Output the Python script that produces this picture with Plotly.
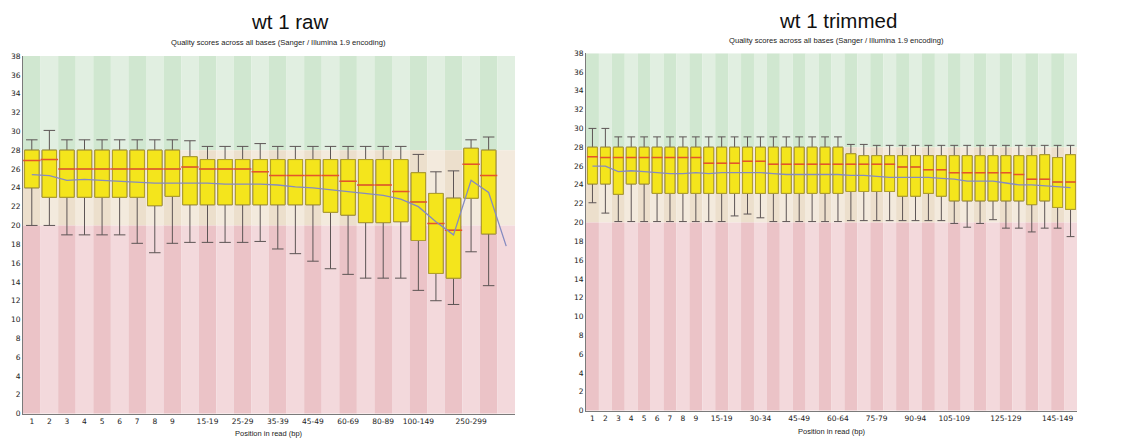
import plotly.graph_objects as go

# ---------------- data ----------------
raw_cats = ["1", "2", "3", "4", "5", "6", "7", "8", "9",
            "10-14", "15-19", "20-24", "25-29", "30-34", "35-39", "40-44", "45-49",
            "50-59", "60-69", "70-79", "80-89", "90-99",
            "100-149", "150-199", "200-249", "250-299", "300-349", "350-351"]
raw_upper = [29.1, 30.1, 29.1, 29.1, 29.1, 29.1, 29.1, 29.1, 29.1, 29.0, 28.4, 28.4, 28.4, 28.7,
             28.4, 28.4, 28.4, 28.4, 28.4, 28.4, 28.4, 28.4, 27.55, 25.7, 25.8, 29.1, 29.4]
raw_q3 = [28, 28, 28, 28, 28, 28, 28, 28, 28, 27.3, 27.0, 27.0, 27.0, 27.0,
          27, 27, 27, 27, 27, 27, 27, 27, 25.6, 23.4, 22.9, 28.2, 28.0]
raw_median = [26.9, 27.0, 26, 26, 26, 26, 26, 26, 26, 26.2, 26, 26, 26, 25.7,
              25.3, 25.3, 25.3, 25.3, 24.7, 24.3, 24.3, 23.6, 22.5, 20.2, 19.5, 26.5, 25.3]
raw_q1 = [24, 23, 23, 23, 23, 23, 23, 22.1, 23.1, 22.2, 22.2, 22.2, 22.2, 22.2,
          22.2, 22.2, 22.2, 21.4, 21.1, 20.3, 20.3, 20.4, 18.4, 14.9, 14.4, 22.9, 19.1]
raw_lower = [20, 20, 19, 19, 19, 19, 18.1, 17.1, 18.1, 18.2, 18.2, 18.2, 18.2, 18.3,
             17.5, 17.0, 16.2, 15.4, 14.8, 14.4, 14.4, 14.4, 13.1, 12.0, 11.6, 17.2, 13.6]
raw_mean = [25.4, 25.3, 24.8, 24.9, 24.8, 24.7, 24.6, 24.5, 24.5, 24.5, 24.5, 24.4, 24.4, 24.4,
            24.3, 24.1, 24.0, 23.8, 23.6, 23.4, 23.2, 22.8, 22.0, 20.4, 19.0, 24.8, 23.5, 17.8]
raw_ticks = ["1", "2", "3", "4", "5", "6", "7", "8", "9", "15-19", "25-29", "35-39",
             "45-49", "60-69", "80-89", "100-149", "250-299"]

trim_cats = ["1", "2", "3", "4", "5", "6", "7", "8", "9",
             "10-14", "15-19", "20-24", "25-29", "30-34", "35-39", "40-44", "45-49",
             "50-54", "55-59", "60-64", "65-69", "70-74", "75-79", "80-84", "85-89",
             "90-94", "95-99", "100-104", "105-109", "110-114", "115-119", "120-124",
             "125-129", "130-134", "135-139", "140-144", "145-149", "150-151"]
trim_upper = [30, 30] + [29.1] * 18 + [28.3, 28.3, 28.2, 28.2] + [28.2] * 14
trim_q3 = [28] * 20 + [27.3, 27.1, 27.1, 27.1, 27.1, 27.1, 27.1, 27.1, 27.1,
                       27.1, 27.1, 27.1, 27.1, 27.1, 27.1, 27.2, 26.9, 27.2]
trim_median = [27, 26.9, 26.9, 26.9, 26.9, 26.9, 26.9, 26.9, 26.9, 26.3, 26.3, 26.3, 26.5, 26.5,
               26.2, 26.2, 26.2, 26.2, 26.2, 26.2, 26.2, 26.2, 26.2, 26.2, 25.9, 25.9, 25.6, 25.6,
               25.3, 25.3, 25.3, 25.3, 25.3, 25.1, 24.6, 24.6, 24.3, 24.3]
trim_q1 = [24.1, 24.1, 23.0, 24.1, 24.1, 23.1, 23.1, 23.1, 23.1, 23.1, 23.1, 23.1, 23.1, 23.1,
           23.1, 23.1, 23.1, 23.1, 23.1, 23.1, 23.3, 23.3, 23.3, 23.3, 22.8, 22.8, 23.1, 22.8,
           22.3, 22.3, 22.3, 22.3, 22.3, 22.3, 21.9, 22.3, 21.6, 21.4]
trim_lower = [22.1, 21.0, 20.1, 20.1, 20.1, 20.1, 20.1, 20.1, 20.1, 20.1, 20.1, 20.7, 20.9, 20.5,
              20.1, 20.1, 20.1, 20.1, 20.1, 20.1, 20.2, 20.2, 20.2, 20.2, 20.2, 20.2, 20.2, 20.2,
              19.9, 19.5, 19.9, 20.3, 19.4, 19.4, 19.0, 19.4, 19.4, 18.5]
trim_mean = [26.0, 26.0, 25.4, 25.5, 25.4, 25.3, 25.2, 25.2, 25.3, 25.2, 25.3, 25.3, 25.3, 25.3,
             25.2, 25.1, 25.1, 25.1, 25.1, 25.1, 25.0, 25.0, 24.9, 24.8, 24.8, 24.8, 24.8, 24.7,
             24.6, 24.4, 24.4, 24.4, 24.2, 24.0, 24.0, 23.9, 23.8, 23.7]
trim_ticks = ["1", "2", "3", "4", "5", "6", "7", "8", "9", "15-19", "30-34", "45-49",
              "60-64", "75-79", "90-94", "105-109", "125-129", "145-149"]

titles = ["wt 1 raw", "wt 1 trimmed"]
subtitle = "Quality scores across all bases (Sanger / Illumina 1.9 encoding)"
xlabel = "Position in read (bp)"

# zones: (low, high, dark stripe, light stripe)
zones = [(28, 38, "#d0e7d0", "#e1efe1"),
         (20, 28, "#ecdfcc", "#f3eadd"),
         (0, 20, "#ebc3c7", "#f3d9dc")]

W, H = 1123, 441
OFF = 8  # default page body margin shifts the plot by this many px
FONT = "DejaVu Sans"
SANS = "Liberation Sans"


def fx(px):
    return (px - OFF) / W


def fy(py):
    return 1 - (py - OFF) / H


fig = go.Figure()
shapes = []
annotations = []

panels = [
    dict(cats=raw_cats, up=raw_upper, q3=raw_q3, med=raw_median, q1=raw_q1, lo=raw_lower,
         mean=raw_mean, ticks=raw_ticks, xa="x", ya="y", px=(23, 515), py=(53, 418),
         bw=0.82, title=titles[0], tx=290, ty=18, sx=278, sy=39, ay=438),
    dict(cats=trim_cats, up=trim_upper, q3=trim_q3, med=trim_median, q1=trim_q1, lo=trim_lower,
         mean=trim_mean, ticks=trim_ticks, xa="x2", ya="y2", px=(586, 1077), py=(50, 415),
         bw=0.76, title=titles[1], tx=838, ty=17, sx=836, sy=37, ay=436),
]

for k, p in enumerate(panels):
    cats = p["cats"]
    n = len(p["q1"])
    xa, ya = p["xa"], p["ya"]
    cat_px = (p["px"][1] - p["px"][0]) / len(cats)
    # background stripes
    for i in range(len(cats)):
        for (lo, hi, dark, light) in zones:
            shapes.append(dict(type="rect", xref=xa, yref=ya, x0=i - 0.5, x1=i + 0.5,
                               y0=lo, y1=hi, fillcolor=dark if i % 2 == 0 else light,
                               line=dict(width=0), layer="below"))
    # whiskers (gray)
    fig.add_trace(go.Box(x=cats[:n], q1=p["q1"], median=p["med"], q3=p["q3"],
                         lowerfence=p["lo"], upperfence=p["up"], xaxis=xa, yaxis=ya,
                         width=p["bw"], whiskerwidth=0.8, fillcolor="#f4e51c",
                         line=dict(color="#5d5555", width=1), boxpoints=False,
                         hoverinfo="skip", showlegend=False))
    # box bodies (olive outline)
    fig.add_trace(go.Box(x=cats[:n], q1=p["q1"], median=p["med"], q3=p["q3"],
                         lowerfence=p["q1"], upperfence=p["q3"], xaxis=xa, yaxis=ya,
                         width=p["bw"], whiskerwidth=0, fillcolor="#f4e51c",
                         line=dict(color="#b2a02a", width=1), boxpoints=False,
                         hoverinfo="skip", showlegend=False))
    # medians (red)
    fig.add_trace(go.Scatter(x=cats[:n], y=p["med"], xaxis=xa, yaxis=ya, mode="markers",
                             marker=dict(symbol="line-ew", size=p["bw"] * cat_px - 2,
                                         line=dict(color="#e5552a", width=1.5)),
                             hoverinfo="skip", showlegend=False))
    # mean line (blue)
    fig.add_trace(go.Scatter(x=cats, y=p["mean"], xaxis=xa, yaxis=ya, mode="lines",
                             line=dict(color="#858bc0", width=1.3),
                             hoverinfo="skip", showlegend=False))

    xdom = [fx(p["px"][0]), fx(p["px"][1])]
    ydom = [fy(p["py"][1]), fy(p["py"][0])]
    ax = dict(domain=xdom, anchor=ya, type="category", categoryorder="array",
              categoryarray=cats, range=[-0.5, len(cats) - 0.5],
              tickmode="array", tickvals=p["ticks"], ticktext=p["ticks"],
              tickfont=dict(family=FONT, size=7.5, color="#222"),
              showline=True, linecolor="#7a7a7a", linewidth=1, showgrid=False,
              zeroline=False, ticks="", fixedrange=True)
    ayx = dict(domain=ydom, anchor=xa, range=[0, 38], tick0=0, dtick=2,
               tickfont=dict(family=FONT, size=7.5, color="#222"),
               showline=True, linecolor="#7a7a7a", linewidth=1, showgrid=False,
               zeroline=False, ticks="", fixedrange=True)
    if k == 0:
        fig.update_layout(xaxis=ax, yaxis=ayx)
    else:
        fig.update_layout(xaxis2=ax, yaxis2=ayx)

    cx = (xdom[0] + xdom[1]) / 2
    annotations.append(dict(text=p["title"], x=fx(p["tx"]), y=fy(p["ty"]), xref="paper",
                            yref="paper", xanchor="center", yanchor="middle", showarrow=False,
                            font=dict(family=SANS, size=20.5, color="#111")))
    annotations.append(dict(text=subtitle, x=fx(p["sx"]), y=fy(p["sy"]), xref="paper",
                            yref="paper", xanchor="center", yanchor="middle", showarrow=False,
                            font=dict(family=SANS, size=7.6, color="#222")))
    annotations.append(dict(text=xlabel, x=cx, y=fy(p["ay"]), xref="paper", yref="paper",
                            xanchor="center", yanchor="middle", showarrow=False,
                            font=dict(family=SANS, size=7.5, color="#222")))

fig.update_layout(width=W, height=H, margin=dict(l=0, r=0, t=0, b=0),
                  paper_bgcolor="white", plot_bgcolor="white",
                  boxmode="overlay", showlegend=False,
                  shapes=shapes, annotations=annotations)

fig.write_html("out.html")
